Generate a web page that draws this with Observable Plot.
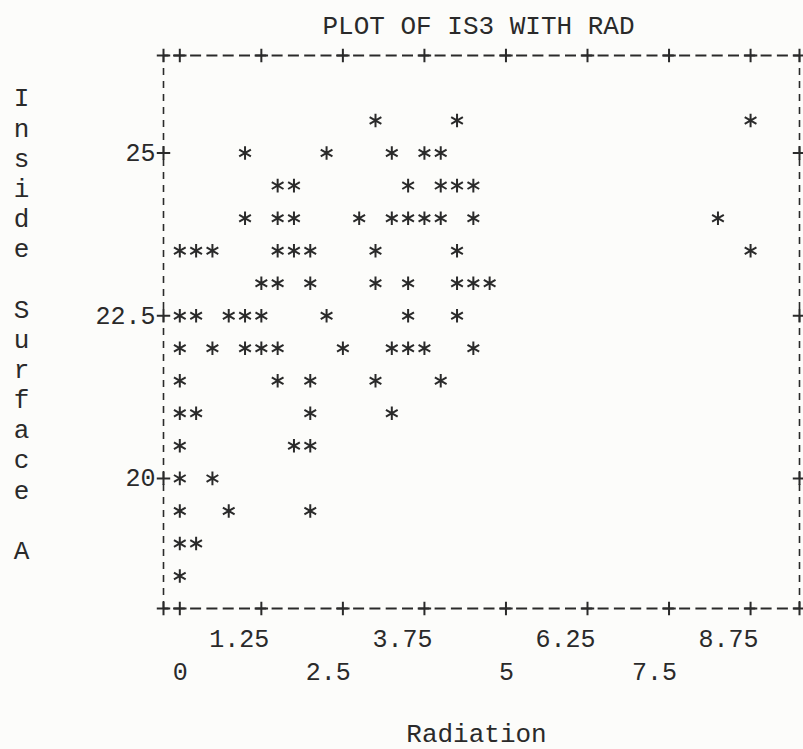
<!DOCTYPE html>
<html>
<head>
<meta charset="utf-8">
<script src="https://cdn.jsdelivr.net/npm/d3@7"></script>
<script src="https://cdn.jsdelivr.net/npm/@observablehq/plot@0.6"></script>
<style>
  html, body { margin: 0; padding: 0; background: #fcfcfa; }
  #chart svg { display: block; }
</style>
</head>
<body>
<div id="chart"></div>
<script>
// ---- Text ----
const title = "PLOT OF IS3 WITH RAD";
const xLabel = "Radiation";
const yLabel = "Inside Surface A";

// ---- Data: one printed row per Inside Surface (IS3) level, radiation values of each "*" ----
const insideSurface = [25.5, 25, 24.5, 24, 23.5, 23, 22.5, 22, 21.5, 21, 20.5, 20, 19.5, 19, 18.5];
const radiationByRow = [
  [3.0, 4.25, 8.75],
  [1.0, 2.25, 3.25, 3.75, 4.0],
  [1.5, 1.75, 3.5, 4.0, 4.25, 4.5],
  [1.0, 1.5, 1.75, 2.75, 3.25, 3.5, 3.75, 4.0, 4.5, 8.25],
  [0, 0.25, 0.5, 1.5, 1.75, 2.0, 3.0, 4.25, 8.75],
  [1.25, 1.5, 2.0, 3.0, 3.5, 4.25, 4.5, 4.75],
  [0, 0.25, 0.75, 1.0, 1.25, 2.25, 3.5, 4.25],
  [0, 0.5, 1.0, 1.25, 1.5, 2.5, 3.25, 3.5, 3.75, 4.5],
  [0, 1.5, 2.0, 3.0, 4.0],
  [0, 0.25, 2.0, 3.25],
  [0, 1.75, 2.0],
  [0, 0.5],
  [0, 0.75, 2.0],
  [0, 0.25],
  [0]
];

// ---- Axes ----
const xTicks = [0, 1.25, 2.5, 3.75, 5, 6.25, 7.5, 8.75];
const xTickLabels = ["0", "1.25", "2.5", "3.75", "5", "6.25", "7.5", "8.75"];
const yTicks = [25, 22.5, 20];
const yTickLabels = ["25", "22.5", "20"];
const frameX = [-0.25, 9.5];
const frameY = [18, 26.5];

// ---- Build tables ----
const points = insideSurface.flatMap((is3, i) => radiationByRow[i].map(rad => ({rad, is3})));
const xTickTable = xTicks.map((v, i) => ({v, label: xTickLabels[i], row: i % 2}));
const yTickTable = yTicks.map((v, i) => ({v, label: yTickLabels[i]}));
const plusMarks = [
  ...[...frameX, ...xTicks].flatMap(x => frameY.map(y => ({x, y}))),
  ...yTicks.flatMap(y => frameX.map(x => ({x, y})))
];

const ink = "#2a2a2a";
const font = "'Liberation Mono', 'DejaVu Sans Mono', monospace";
const fs = 25;
const fsBig = 26;

const chart = Plot.plot({
  width: 803,
  height: 749,
  marginLeft: 163,
  marginRight: 4,
  marginTop: 55,
  marginBottom: 141,
  x: {domain: frameX, axis: null},
  y: {domain: frameY, axis: null},
  style: {background: "transparent", fontFamily: font, color: ink},
  marks: [
    // dashed frame
    Plot.ruleY(frameY, {x1: frameX[0], x2: frameX[1], stroke: ink, strokeWidth: 2.2, strokeDasharray: "11,5.3", strokeDashoffset: 5.5}),
    Plot.ruleX(frameX, {y1: frameY[0], y2: frameY[1], stroke: ink, strokeWidth: 1.6, strokeDasharray: "7,6"}),
    // "+" tick marks
    Plot.dot(plusMarks, {x: "x", y: "y", symbol: "plus", r: 4.4, stroke: ink, strokeWidth: 2}),
    // data "*"
    Plot.dot(points, {x: "rad", y: "is3", symbol: "asterisk", r: 6.4, stroke: ink, strokeWidth: 2}),
    // y tick labels
    Plot.text(yTickTable, {y: "v", text: "label", frameAnchor: "left", textAnchor: "end", dx: -8, fontSize: fs, fill: ink}),
    // x tick labels (two staggered rows)
    Plot.text(xTickTable.filter(d => d.row === 1), {x: "v", text: "label", frameAnchor: "bottom", textAnchor: "end", dx: 8, dy: 38, fontSize: fs, fill: ink}),
    Plot.text(xTickTable.filter(d => d.row === 0), {x: "v", text: "label", frameAnchor: "bottom", textAnchor: "end", dx: 8, dy: 71, fontSize: fs, fill: ink}),
    // title
    Plot.text([title], {frameAnchor: "top", dx: -3, dy: -40, fontSize: fsBig, fill: ink}),
    // x label
    Plot.text([xLabel], {frameAnchor: "bottom", dx: -5, dy: 133, fontSize: fsBig, fill: ink}),
    // y label, stacked vertically one letter per line
    Plot.text([yLabel.split("").map(c => c === " " ? "\u00a0" : c).join("\n")], {
      frameAnchor: "left", textAnchor: "middle", dx: -142, dy: -9, lineHeight: 1.16, fontSize: fsBig, fill: ink
    })
  ]
});

document.getElementById("chart").appendChild(chart);
</script>
</body>
</html>
